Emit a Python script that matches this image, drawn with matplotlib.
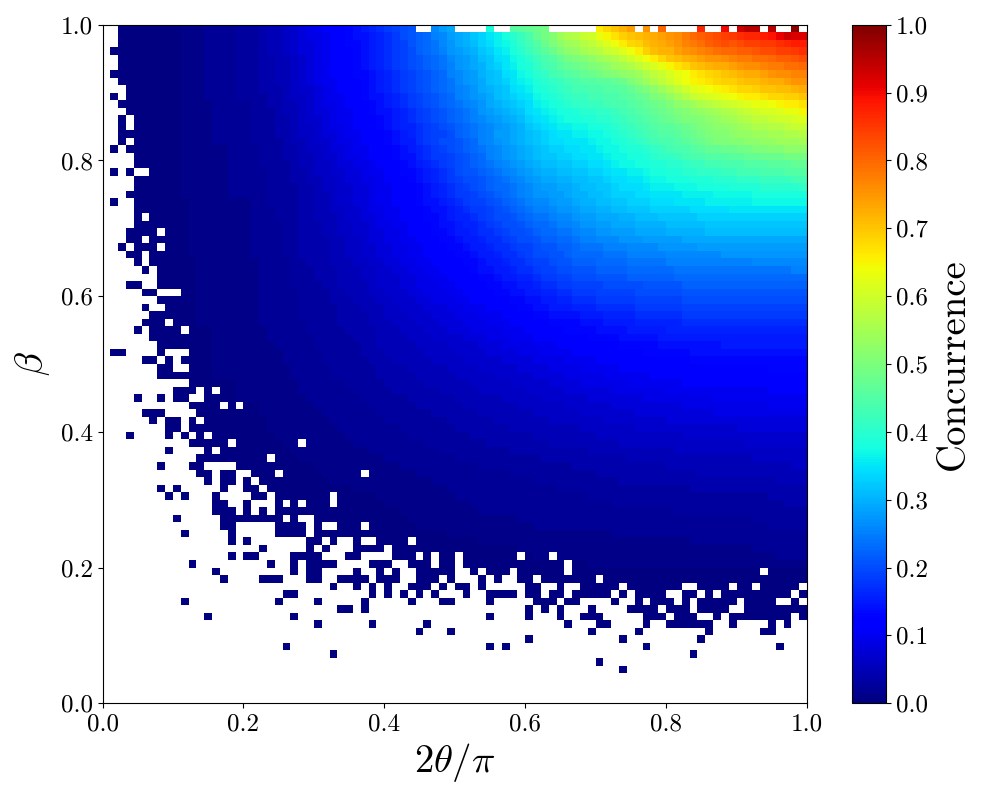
import numpy as np
import matplotlib
matplotlib.use("Agg")
import matplotlib.pyplot as plt

plt.rcParams["font.family"] = ["cmr10", "DejaVu Serif"]
plt.rcParams["mathtext.fontset"] = "cm"
plt.rcParams["axes.formatter.use_mathtext"] = True
plt.rcParams["axes.unicode_minus"] = False

N_CELLS = 90
X_LABEL = r"$2\theta/\pi$"
Y_LABEL = r"$\beta$"
CBAR_LABEL = "Concurrence"
AXIS_TICKS = [0.0, 0.2, 0.4, 0.6, 0.8, 1.0]
CBAR_TICKS = [0.0, 0.1, 0.2, 0.3, 0.4, 0.5, 0.6, 0.7, 0.8, 0.9, 1.0]

# Which cells hold a value, row by row from the top (column ranges, inclusive).
filled_rows = [
"2-39 42-44 49 52-56 63-67 69 71 76 79 81-83 85 88",
"2-89","2-89","1-89","2-89","2-89","1-89","2-89","3-89","1 3-89","2-89","3-89",
"2 4-89","2 4-89","2-89","2 4-89","1 3-89","4-89","4-89","1 3 6-89","4-89","4-89",
"3-89","1 4-89","4-89","4 6-89","4-89","3-6 8-89","3-4 6-89","2 4-6 8-89","3-4 6-89",
"4 6-89","5 7-89","7-89","3-4 7-89","5-6 10-89","7-89","5 8-89","6-89","5-7 9-89",
"4 6-9 11-89","6-89","7-89","1-2 7 11-89","5-6 8 10-89","7-8 11-89","7-89","11-89",
"9-11 13 15-89","4 7 9-10 13-89","11-14 16 18-89","5-7 12-89","6 8-9 11 13-89",
"8-9 11-89","3 8 10 12 14-89","11-15 17-24 26-89","8 13 15-89","12-20 22-89",
"7 11-12 17-89","12-13 15-16 19-21 23-32 34-89","13 15-16 18 20-89",
"7 9 15 18-19 21-89","8 10 14 19-20 22-28 30-89","14-15 18 22 24 26-28 30-89",
"14-16 18 20 22-89","9 15-22 24 27-89","15-16 22-25 27 30-32 34-89","10 16 22-25 27-89",
"16 18 26-27 29 32 35-38 40-89","20 26 28 32-35 37-89",
"16 18-19 24-27 31-32 37-39 41 43-44 46-52 54-56 58-89",
"11 21 24 26-29 34-36 39-41 43-44 46-58 60-89",
"14 24 26-27 32 35 37 40-44 47 49-51 53-58 60-83 85-89",
"15 20-22 26-27 30-33 35-37 40-42 44 48 50 53-54 56-62 64-89",
"29 32 34 36 39-41 43 45-46 48 54-55 58 61-65 67-73 76-79 81-82 84-88",
"23-24 34 36 38 40 42 46 49-52 54-55 57-58 60-64 66 68-71 74-75 77 79-87 89",
"10 22 27 33 39 43-44 49 55-57 59-60 65 68 70-72 74 76-80 82-85 88",
"30-31 33 54 56 58 62 67-70 72-74 76-79 82-89",
"13 24 49 54 58 61-63 69-71 73-75 78 80-87 89",
"27 34 41 59 63-64 69 72-77 80 85 87",
"40 44 62 68 77 84-85","54 66 76","23 49 51 69 86","29 75","63","66","","","","",
]

# Concurrence in hundredths, row by row from the top, columns 10 to 89 in blocks of ten.
# Columns 0-9 and every row after these read 0.00.
value_rows = [
"01010102020202030303 04050506070809101112 12131415161718192021 22232628293031323338 38404546474849525456 58606366687072747575 77808082848587878890 90939595959596979996",
"01010102020202030303 04050506070809091011 12131414151617182021 22232526282930323335 36384042444749515456 57596063656769707172 73747576788081828384 85868787888991939292",
"01010102020202030303 04050506070808091011 12131314151617181921 22232426272930313334 36373941434548505254 55575860626466686971 72737475777879818283 82838484858586878888",
"01010102020202030303 04050506070808091011 12121314151617181920 22232425272829303233 35363840424446485052 53555657596062646669 71727274757677787980 80818182838384848586",
"01010102020202030303 04040505060708091011 12121314151617181920 21222324262728293132 34353738404244454749 50515254555658606264 66687071727374757576 77787879798081818283",
"01010102020202030303 04040505060708091011 11121314151617181920 21222324252728293032 33353638394143444647 48495051525455565860 61636567687071727373 74757676777878797980",
"01010102020202030303 04040505060708091011 11121313141516171819 20212223252627283031 32343537384041434445 46474849505152535456 58596163646667686970 71727373747576767777",
"01010102020202030303 04040505060708091010 11121213141516171819 20212223242627282931 32333536373940414243 44454546464748505254 56586062646566676869 69707171727373747575",
"01010102020202030303 04040405060707080910 11111213141516171819 20212223242526272930 31323435363839404142 43434444454546474950 52545658606263646566 67686869707071717273",
"01010102020202030303 03040405060607080910 10111213141415161718 19202122232526272829 31323334353738394041 42424343444445464748 50515355575960616263 64656666676868696970",
"01010101020202020203 03040405050607080909 10111212131415161718 19202122232425262729 30313233343637383940 41414242434444454647 48495052535456575859 60616263636465666667",
"01010101020202020203 03030405050607080809 10101112131414151617 18192021222324252728 29303132343536373838 39404041414243444546 47484950515253545556 57585960616162636365",
"01010101020202020203 03030404050607070809 10101112121314151617 18192021222324252627 28293031333435363738 38393940404142434445 46474849505051525354 55565758585960606162",
"01010101020202020203 03030404050606070809 09101111121314151616 17181920212223242526 27282930323334353636 37373838394041424344 45464647484950515252 53545556565757585959",
"01010101020202020203 03030404050606070808 09101011121213141516 17181919202223242526 28282930313233343535 36363737383940414243 44454546474849505151 52535354545555565657",
"01010101020202020203 03030304050506070708 09091011111213141515 17181920202122232526 27282930313233343435 35353637373839404142 43444445464748495050 51515252535354545455",
"01010101010102020202 03030304040506060708 08091010111212131415 16171819202122232425 26272829303132333334 34353536373738393940 41424344444546474748 48494950505151525252",
"01010101010102020202 03030304040505060707 08090910111112131414 16171818192021222325 26272829303132323333 34343535363737383839 40414142434444454545 46464747484848494949",
"01010101010102020202 03030303040505060607 08080909101112121314 15161718192021222324 25262728293031313232 33333434353637373838 39394040414242434344 44444545454646464747",
"01010101010102020202 02030303040405060607 07080809101011121313 14151617182021212223 24252627282930303131 32323333343535363637 38383939404041414142 42434343444444454545",
"01010101010102020202 02030303040405050606 07080809091011111213 14151617181920202122 23242526272829293030 31313232333434353536 37373838383939394040 40414141424242424343",
"01010101010102020202 02030303030404050606 07070808091010111112 13141516171819202122 23232425262728282929 30313132323334343435 36363637373738383838 39393939404040404041",
"01010101010102020202 02030303030404050506 07070808091010111112 13141516171818192021 22232425262727282829 30303131323333333434 35353535363636363737 37373738383838383838",
"00010101010101010102 02030303030404050506 07070808091010111112 13141415161718191920 21222324252626272828 29303031313232333333 34343435353535363636 36363637373737373737",
"00010101010101010102 02020303030404050506 06070708090910101111 12131414151617181819 20212223242525262727 28292930303131323232 33333333333434343434 35353535353535353535",
"00010101010101010102 02020303030404050505 06070708080910101111 12131314151616171819 20202122232424252626 27282829292930303131 31323232323233333333 33333333333333333333",
"00010101010101010102 02020203030404040505 06060707080909101011 12121314141516161718 19202021222323242525 26272728282929293030 30303131313131323232 32323232323232323232",
"00010101010101010102 02020203030404040505 06060707080809091011 11121313141515161717 18192020212223232424 25262627272828282929 29293030303030313131 31313131313131313131",
"00010101010101010102 02020203030404040405 05060607080809091010 11111213131415151617 17181920202122222323 24252526262627272728 28282828292929292929 29292929292929292929",
"00010101010101010102 02020203030404040405 05060607070808090910 10111112131314151516 17171819192021212222 23242424252525262626 26272727272728282828 28282828282828282828",
"00010101010101010102 02020203030404040405 05060607070808090910 10111112121313141515 16171718192020212122 23232323242424252525 25252626262626262627 27272727272727272727",
"00000101010101010101 02020202030304040405 05050606070708080909 10101111121213131415 15161717181919202121 22222223232323242424 24242525252525252525 25252526262626262626",
"00000101010101010101 02020202030303040404 05050506060707080809 09101011111212131414 15151617171819192020 21212122222222232323 23232324242424242424 24242424242424242525",
"00000101010101010101 02020202030303040404 05050506060707070808 09091010111112121313 14151516161718181919 20202021212121222222 22222223232323232323 23232323232323232323",
"00000101010101010101 02020202030303030404 05050505060707070808 09090910101111121213 13141415151617171818 19191919202020202021 21212121222222222222 22222222222222222222",
"00000101010101010101 02020202020303030304 04050505060607070708 08090909101011111212 13131414151516161717 18181819191919192020 20202020212121212121 21212121212121212121",
"00000101010101010101 02020202020303030304 04040505050606070707 08080909091010111111 12121313141415151616 17171718181818181919 19191919202020202020 20202020202020202020",
"00000101010101010101 02020202020303030303 04040405050506060707 07080808090910101011 11121213131414151515 16161617171717171818 18181818191919191919 19191919191919191919",
"00000101010101010101 02020202020303030303 04040404050506060607 07070808080909091010 10111112121313141414 14151515161616161717 17171717181818181818 18181818181818181818",
"00000101010101010101 02020202020203030303 04040404050505060606 07070708080809090910 10101111111212131313 13141414151515151616 16161616171717171717 17171717171717171717",
"00000000010101010101 01020202020203030303 03040404040505050606 06070707080808090909 09101010111112121213 13131314141414151515 15151616161616161616 16161616161616161616",
"00000000010101010101 01020202020202030303 03030404040505050506 06060707070708080809 09091010101111111112 12121313131314141414 14151515151515151515 15151515151515151515",
"00000000010101010101 01010202020202030303 03030304040505050505 06060606070707070808 08090909091010101111 11111212121213131313 13141414141414141415 15151515151515151515",
"00000000010101010101 01010102020202020303 03030304040405050505 05060606060707070708 08080809090910101010 11111111121212121213 13131313131414141414 14141414141414141414",
"00000000010101010101 01010102020202020303 03030303040404050505 05050606060607070707 07080808080909090910 10101011111111111212 12121212121313131313 13131313131313131313",
"00000000010101010101 01010101020202020203 03030303030404040405 05050505060606060707 07070708080808090909 09101010101011111111 11111212121212121212 12121212121313131313",
"00000000010101010101 01010101020202020203 03030303030404040404 05050505050606060606 07070707070808080809 09090909101010101010 11111111111111111111 11111212121212121212",
"00000000000000010101 01010101010202020202 02030303030304040404 04050505050505060606 06060707070707080808 08090909090909101010 10101010111111111111 11111111111111111111",
"00000000000000010101 01010101010202020202 02020303030303040404 04040405050505050606 06060606070707070708 08080808080909090909 09091010101010101010 10101010101111111111",
"00000000000000010101 01010101010102020202 02020203030303030304 04040404040505050505 05060606060607070707 07070808080808080809 09090909090909091010 10101010101010101010",
"00000000000000000000 01010101010101020202 02020202030303030303 04040404040405050505 05050506060606060607 07070707070808080808 08080808090909090909 09090909091010101010",
"00000000000000000000 01010101010101010202 02020202020303030303 03030404040404040505 05050505050606060606 06070707070707070808 08080808080808080909 09090909090909090909",
"00000000000000000000 00010101010101010102 02020202020203030303 03030303040404040404 05050505050505060606 06060606070707070707 07070808080808080808 08080808080808080808",
"00000000000000000000 00010101010101010101 02020202020202020303 03030303030404040404 04040505050505050505 05060606060606060707 07070707070707070707 07080808080808080808",
"00000000000000000000 00000101010101010101 01020202020202020203 03030303030303040404 04040404040505050505 05050506060606060606 06060606070707070707 07070707070707070707",
"00000000000000000000 00000001010101010101 01010202020202020202 02030303030303030304 04040404040404050505 05050505050506060606 06060606060606060606 06060707070707070707",
"00000000000000000000 00000000010101010101 01010101020202020202 02020203030303030303 03030404040404040404 04040505050505050505 05050506060606060606 06060606060606060606",
"00000000000000000000 00000000000101010101 01010101010102020202 02020202020303030303 03030303030304040404 04040404040404050505 05050505050505050505 05050506060606060606",
"00000000000000000000 00000000000000010101 01010101010101010202 02020202020202020303 03030303030303030303 04040404040404040404 04040505050505050505 05050505050505050606",
"00000000000000000000 00000000000000000101 01010101010101010101 02020202020202020202 02020303030303030303 03030304040404040404 04040404040405050505 05050505050505050505",
"00000000000000000000 00000000000000000001 01010101010101010101 01010202020202020202 02020202020303030303 03030303030304040404 04040404040404040404 04040404040405050505",
"00000000000000000000 00000000000000000000 00000101010101010101 01010101020202020202 02020202020202020303 03030303030303030303 03030303030404040404 04040404040404040404",
"00000000000000000000 00000000000000000000 00000000000101010101 01010101010202020202 02020202020202020202 02020303030303030303 03030303030303030303 03030303030404040404",
"00000000000000000000 00000000000000000000 00000000000001010101 01010101010101020202 02020202020202020202 02020202020303030303 03030303030303030303 03030303030303040404",
"00000000000000000000 00000000000000000000 00000000000000000101 01010101010101010202 02020202020202020202 02020202020202020202 02020203030303030303 03030303030303030303",
"00000000000000000000 00000000000000000000 00000000000000000001 01010101010101010101 01010102020202020202 02020202020202020202 02020202020202020202 02020203030303030303",
"00000000000000000000 00000000000000000000 00000000000000000000 01010101010101010101 01010101010202020202 02020202020202020202 02020202020202020202 02020202020303030303",
"00000000000000000000 00000000000000000000 00000000000000000000 00000000010101010101 01010101010101010101 01010101010202020202 02020202020202020202 02020202020202020202",
"00000000000000000000 00000000000000000000 00000000000000000000 00000000000000000101 01010101010101010101 01010101010101010101 01010101010202020202 02020202020202020202",
"00000000000000000000 00000000000000000000 00000000000000000000 00000000000000000000 00000001010101010101 01010101010101010101 01010101010101010101 01010102020202020202",
"00000000000000000000 00000000000000000000 00000000000000000000 00000000000000000000 00000000000101010101 01010101010101010101 01010101010101010101 01010101010102020202",
"00000000000000000000 00000000000000000000 00000000000000000000 00000000000000000000 00000000000000000000 00000101010101010101 01010101010101010101 01010101010101010101",
]

grid = np.zeros((N_CELLS, N_CELLS))
for r, text in enumerate(value_rows):
    digits = text.replace(" ", "")
    cells = [int(digits[i:i + 2]) / 100 for i in range(0, len(digits), 2)][:N_CELLS - 10]
    grid[r, 10:10 + len(cells)] = cells

present = np.zeros((N_CELLS, N_CELLS), dtype=bool)
for r, text in enumerate(filled_rows):
    for part in text.split():
        a, _, b = part.partition("-")
        present[r, int(a):int(b or a) + 1] = True

field = np.ma.array(grid, mask=~present)[::-1]
edges = np.linspace(0, 1, N_CELLS + 1)

fig = plt.figure(figsize=(10, 8), dpi=100)
ax = fig.add_axes([0.1025, 0.121, 0.7045, 0.848])
mesh = ax.pcolormesh(edges, edges, field, cmap="jet", vmin=0, vmax=1,
                     shading="flat", linewidth=0, rasterized=True)
ax.set_xlim(0, 1)
ax.set_ylim(0, 1)
ax.set_xticks(AXIS_TICKS)
ax.set_yticks(AXIS_TICKS)
ax.set_xticklabels([f"{t:.1f}" for t in AXIS_TICKS])
ax.set_yticklabels([f"{t:.1f}" for t in AXIS_TICKS])
ax.tick_params(labelsize=18)
ax.set_xlabel(X_LABEL, fontsize=28, labelpad=4)
ax.set_ylabel(Y_LABEL, fontsize=28, labelpad=6)

cax = fig.add_axes([0.852, 0.121, 0.034, 0.848])
cbar = fig.colorbar(mesh, cax=cax, ticks=CBAR_TICKS)
cbar.ax.set_yticklabels([f"{t:.1f}" for t in CBAR_TICKS])
cbar.ax.tick_params(labelsize=18)
cbar.set_label(CBAR_LABEL, fontsize=28, labelpad=6)

fig.savefig("out.png", dpi=100)
